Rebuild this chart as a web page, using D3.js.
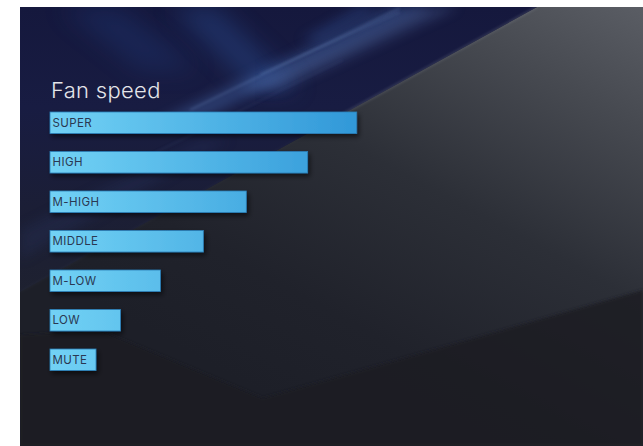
<!DOCTYPE html>
<html><head><meta charset="utf-8">
<script src="https://cdn.jsdelivr.net/npm/d3@7"></script>
<style>html,body{margin:0;padding:0;background:#fff;overflow:hidden}svg{display:block}</style>
</head><body>
<svg id="c" width="643" height="446"></svg>
<script>
const categories = ["SUPER","HIGH","M-HIGH","MIDDLE","M-LOW","LOW","MUTE"];
const values = [100, 84, 64, 50, 36, 23, 15];
const title = "Fan speed";

const svg = d3.select("#c");
const W = 643, H = 446;
const defs = svg.append("defs");

function lin(id, x1,y1,x2,y2, stops){
  const g = defs.append("linearGradient").attr("id",id).attr("x1",x1).attr("y1",y1).attr("x2",x2).attr("y2",y2);
  stops.forEach(s=>g.append("stop").attr("offset",s[0]).attr("stop-color",s[1]).attr("stop-opacity",s[2]===undefined?1:s[2]));
  return g;
}
lin("gGray",1,0,0.35,0.85,[[0,"#5a5d64"],[0.2,"#474a51"],[0.5,"#2c2f37"],[0.8,"#20222b"],[1,"#1d1f28"]]);
lin("gBlue",0,0,0,1,[[0,"#15183d"],[0.35,"#181c42"],[0.7,"#1b1e36"],[1,"#1e2130"]]);

function mkBlur(id, sd){
  const f = defs.append("filter").attr("id",id).attr("x","-50%").attr("y","-50%").attr("width","200%").attr("height","200%");
  f.append("feGaussianBlur").attr("stdDeviation",sd);
}
mkBlur("blur",6); mkBlur("blur2",1.5); mkBlur("blur3",12);

const shadow = defs.append("filter").attr("id","sh").attr("x","-10%").attr("y","-30%").attr("width","130%").attr("height","180%");
shadow.append("feDropShadow").attr("dx",2).attr("dy",3).attr("stdDeviation",2.5).attr("flood-color","#000").attr("flood-opacity",0.55);

const clip = defs.append("clipPath").attr("id","panel");
clip.append("rect").attr("x",20).attr("y",7).attr("width",W-20).attr("height",H-7);

const bg = svg.append("g").attr("clip-path","url(#panel)");
bg.append("rect").attr("x",20).attr("y",7).attr("width",W-20).attr("height",H-7).attr("fill","#1c1e27");
// gray plane
bg.append("polygon").attr("points","537,7 643,7 643,446 20,446 20,292").attr("fill","url(#gGray)");
// darker lower band
bg.append("polygon").attr("points","20,335 100,330 263,398 643,290 643,446 20,446").attr("fill","#1b1c24").attr("opacity",0.8).attr("filter","url(#blur2)");
// blue region
bg.append("polygon").attr("points","20,7 537,7 343,114 20,292").attr("fill","url(#gBlue)");
// streaks (clipped to blue region)
const clipB = defs.append("clipPath").attr("id","blueclip");
clipB.append("polygon").attr("points","20,7 537,7 343,114 20,292");
const sg = bg.append("g").attr("clip-path","url(#blueclip)");
const streaks = [
  {p:"170,7 215,7 300,90 255,90", c:"#2f5aa8", o:0.35, f:"blur3"},
  {p:"60,7 120,7 200,70 140,70", c:"#243f85", o:0.3, f:"blur3"},
  {p:"150,125 390,7 430,7 190,125", c:"#4d74bb", o:0.35, f:"blur"},
  {p:"240,90 420,7 460,7 280,90", c:"#6d8fca", o:0.25, f:"blur"},
  {p:"300,40 360,7 380,7 320,40", c:"#3e65b0", o:0.35, f:"blur"},
  {p:"20,230 200,140 230,140 20,260", c:"#28305a", o:0.35, f:"blur"}
];
streaks.forEach(s=>sg.append("polygon").attr("points",s.p).attr("fill",s.c).attr("opacity",s.o).attr("filter","url(#"+s.f+")"));
// thin bright lines
const thin = [[190,110,400,8,0.45],[260,74,400,12,0.35],[130,165,343,60,0.15]];
thin.forEach(t=>sg.append("line").attr("x1",t[0]).attr("y1",t[1]).attr("x2",t[2]).attr("y2",t[3]).attr("stroke","#8fb0e6").attr("stroke-width",1).attr("opacity",t[4]).attr("filter","url(#blur2)"));
// edge highlight
bg.append("line").attr("x1",537).attr("y1",7).attr("x2",343).attr("y2",114).attr("stroke","#8a909c").attr("stroke-width",1.2).attr("opacity",0.55).attr("filter","url(#blur2)");
bg.append("line").attr("x1",343).attr("y1",114).attr("x2",20).attr("y2",292).attr("stroke","#5a6070").attr("stroke-width",1).attr("opacity",0.2).attr("filter","url(#blur2)");

// scales
const x = d3.scaleLinear().domain([0,100]).range([50,356.7]);
const y = d3.scaleBand().domain(categories).range([112,370.5]).paddingInner(0.456).paddingOuter(0);

const gBar = defs.append("linearGradient").attr("id","gBar").attr("gradientUnits","userSpaceOnUse")
  .attr("x1",x(0)).attr("y1",0).attr("x2",x(100)).attr("y2",0);
gBar.append("stop").attr("offset",0).attr("stop-color","#72d2f5");
gBar.append("stop").attr("offset",1).attr("stop-color","#3198d8");

svg.append("text").attr("x",51).attr("y",98).attr("fill","#e4e5ea")
  .attr("font-family","Inter, 'Open Sans', sans-serif").attr("font-size",22).attr("font-weight",300)
  .attr("letter-spacing",0.3)
  .text(title);

const rows = svg.append("g").selectAll("g").data(categories).join("g");
rows.append("rect")
  .attr("x",x(0)).attr("y",d=>y(d))
  .attr("width",(d,i)=>x(values[i])-x(0)).attr("height",y.bandwidth())
  .attr("fill","url(#gBar)").attr("stroke","#2b7fb8").attr("stroke-width",0.8)
  .attr("filter","url(#sh)");
rows.append("text")
  .attr("x",x(0)+2.5).attr("y",d=>y(d)+y.bandwidth()/2+4)
  .attr("fill","#2a3852").attr("font-family","Inter, 'Open Sans', sans-serif").attr("font-size",11.5)
  .attr("letter-spacing",0.4)
  .text(d=>d);
</script>
</body></html>
